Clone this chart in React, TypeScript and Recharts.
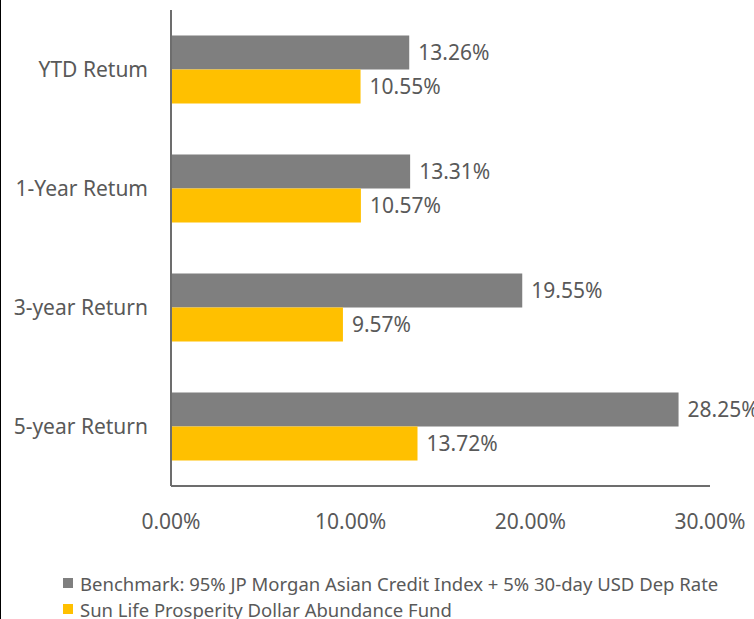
import React from "react";
import { BarChart, Bar, XAxis, YAxis, LabelList, Legend } from "recharts";

const categories = ["YTD Retum", "1-Year Retum", "3-year Return", "5-year Return"];
const benchmarkValues = [13.26, 13.31, 19.55, 28.25];
const fundValues = [10.55, 10.57, 9.57, 13.72];
const xTicks = [0, 10, 20, 30];
const benchmarkName = "Benchmark: 95% JP Morgan Asian Credit Index + 5% 30-day USD Dep Rate";
const fundName = "Sun Life Prosperity Dollar Abundance Fund";

const data = categories.map((c, i) => ({
  name: c,
  benchmark: benchmarkValues[i],
  fund: fundValues[i],
}));

const FONT = "'Noto Sans', 'Open Sans', sans-serif";
const TEXT = "#595959";
const GRAY = "#7f7f7f";
const YELLOW = "#ffc000";
const AXIS = "#6d6d6d";

const fmt = (v: any) => `${Number(v).toFixed(2)}%`;

const LegendContent = (props: any) => {
  const payload = props.payload || [];
  return (
    <div style={{ fontFamily: FONT, fontSize: 18.5, color: TEXT, height: 52 }}>
      {payload.map((p: any) => (
        <div key={p.value} style={{ display: "flex", alignItems: "center", height: 26, whiteSpace: "nowrap" }}>
          <span style={{ display: "inline-block", width: 10, height: 10, background: p.color, marginRight: 7 }} />
          <span>{p.value}</span>
        </div>
      ))}
    </div>
  );
};

export default function App() {
  return (
    <div style={{ position: "absolute", left: 0, top: 0, width: 754, height: 619, background: "#fff", overflow: "hidden" }}>
      <div style={{ position: "absolute", left: 0, top: 0, width: 1, height: 619, background: "#000" }} />
      <BarChart
        width={754}
        height={619}
        data={data}
        layout="vertical"
        margin={{ top: 10, right: 44, left: 0, bottom: 0 }}
        barGap={0}
        barCategoryGap="21.4%"
      >
        <XAxis
          type="number"
          domain={[0, 30]}
          ticks={xTicks}
          tickFormatter={fmt}
          axisLine={{ stroke: AXIS, strokeWidth: 2 }}
          tickLine={false}
          tickSize={0}
          tickMargin={28}
          tick={{ fill: TEXT, fontSize: 21, fontFamily: FONT }}
          height={81}
        />
        <YAxis
          type="category"
          dataKey="name"
          width={171}
          axisLine={{ stroke: AXIS, strokeWidth: 2 }}
          tickLine={false}
          tickSize={0}
          tickMargin={23}
          tick={{ fill: TEXT, fontSize: 21, fontFamily: FONT }}
        />
        <Legend
          layout="horizontal"
          verticalAlign="bottom"
          align="left"
          content={<LegendContent />}
          wrapperStyle={{ left: 63, top: 570, width: 690, height: 52 }}
        />
        <Bar dataKey="benchmark" name={benchmarkName} fill={GRAY} isAnimationActive={false}>
          <LabelList dataKey="benchmark" position="right" offset={9} formatter={fmt} fill={TEXT} fontSize={21} fontFamily={FONT} />
        </Bar>
        <Bar dataKey="fund" name={fundName} fill={YELLOW} isAnimationActive={false}>
          <LabelList dataKey="fund" position="right" offset={9} formatter={fmt} fill={TEXT} fontSize={21} fontFamily={FONT} />
        </Bar>
      </BarChart>
    </div>
  );
}
